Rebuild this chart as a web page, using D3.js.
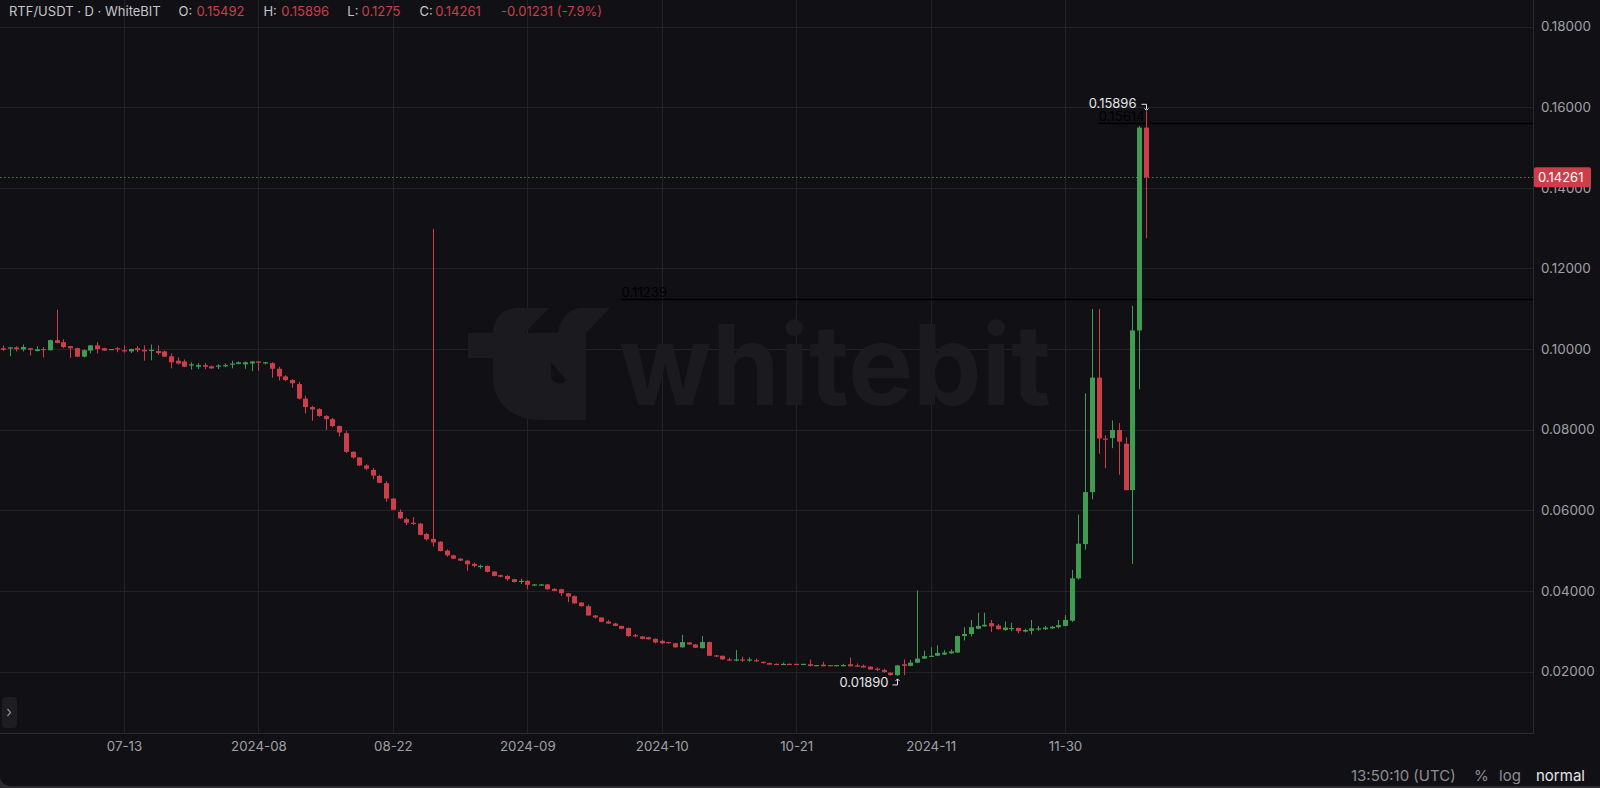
<!DOCTYPE html>
<html><head><meta charset="utf-8">
<script src="https://cdn.jsdelivr.net/npm/d3@7"></script>
<style>
html,body{margin:0;padding:0;background:#2c2c30;overflow:hidden;}
svg{display:block;font-family:Inter,"Noto Sans",sans-serif;}
</style></head><body>
<svg id="c" width="1600" height="788"></svg>
<script>
// ---------------- DATA ----------------
const opens = [
.1002,.1001,.1004,.0999,.1002,.0995,.1000,.0997,.1022,.1017,
.1007,.1002,.0981,.0996,.1009,.1002,.0998,.1002,.0997,.0994,
.1002,.0998,.0995,.0995,.0994,.0982,.0971,.0969,.0959,.0956,
.0960,.0957,.0956,.0957,.0961,.0963,.0962,.0964,.0969,.0964,
.0965,.0951,.0932,.0923,.0913,.0877,.0856,.0851,.0834,.0826,
.0809,.0791,.0745,.0731,.0711,.0700,.0685,.0667,.0629,.0596,
.0578,.0569,.0567,.0541,.0529,.0522,.0500,.0488,.0480,.0475,
.0467,.0459,.0462,.0448,.0439,.0437,.0429,.0422,.0425,.0414,
.0414,.0416,.0405,.0404,.0394,.0387,.0371,.0362,.0339,.0334,
.0324,.0319,.0313,.0308,.0290,.0287,.0285,.0281,.0276,.0273,
.0270,.0260,.0272,.0267,.0258,.0273,.0240,.0239,.0230,.0227,
.0230,.0227,.0228,.0224,.0221,.0219,.0216,.0219,.0219,.0216,
.0218,.0213,.0217,.0216,.0213,.0213,.0218,.0215,.0214,.0212,
.0207,.0204,.0197,.0191,.0218,.0214,.0222,.0232,.0237,.0239,
.0242,.0245,.0247,.0288,.0293,.0306,.0312,.0320,.0314,.0303,
.0305,.0308,.0299,.0301,.0305,.0305,.0307,.0310,.0313,.0326,
.0431,.0516,.0645,.0929,.0778,.0779,.0799,.0765,.0650,.1046,
.15492];
const highs = [
.1009,.1005,.1007,.1011,.1003,.1007,.1005,.1023,.1097,.1024,
.1008,.1003,.0999,.1010,.1017,.1003,.1000,.1005,.1009,.1001,
.1007,.1009,.1011,.1009,.0996,.0989,.0979,.0974,.0967,.0965,
.0965,.0959,.0962,.0964,.0971,.0969,.0969,.0970,.0970,.0968,
.0967,.0956,.0935,.0925,.0918,.0884,.0859,.0853,.0836,.0829,
.0810,.0796,.0746,.0732,.0714,.0705,.0688,.0672,.0630,.0602,
.0582,.0583,.0568,.0544,.1298,.0523,.0503,.0490,.0481,.0477,
.0470,.0465,.0463,.0449,.0440,.0439,.0430,.0430,.0426,.0417,
.0417,.0417,.0407,.0405,.0395,.0389,.0372,.0366,.0340,.0335,
.0328,.0321,.0314,.0309,.0293,.0288,.0286,.0282,.0279,.0274,
.0271,.0291,.0273,.0268,.0288,.0274,.0241,.0240,.0234,.0253,
.0237,.0235,.0232,.0225,.0222,.0220,.0222,.0220,.0219,.0219,
.0230,.0216,.0224,.0216,.0216,.0219,.0235,.0220,.0217,.0213,
.0210,.0207,.0198,.0216,.0230,.0229,.0401,.0252,.0260,.0265,
.0253,.0255,.0289,.0310,.0328,.0346,.0346,.0328,.0318,.0324,
.0321,.0309,.0306,.0328,.0313,.0313,.0313,.0328,.0340,.0452,
.0589,.0890,.1099,.1099,.0786,.0823,.0816,.0781,.1107,.1553,
.15896];
const lows = [
.0995,.0982,.0994,.0994,.0984,.0994,.0979,.0996,.1014,.1002,
.0978,.0980,.0979,.0989,.0989,.0995,.0998,.0992,.0991,.0990,
.0992,.0971,.0972,.0986,.0980,.0952,.0961,.0955,.0949,.0950,
.0950,.0951,.0950,.0955,.0952,.0962,.0951,.0945,.0946,.0962,
.0929,.0922,.0920,.0904,.0875,.0840,.0822,.0832,.0799,.0806,
.0783,.0742,.0728,.0710,.0700,.0677,.0667,.0621,.0600,.0578,
.0563,.0563,.0538,.0525,.0510,.0498,.0485,.0479,.0474,.0450,
.0458,.0455,.0446,.0436,.0434,.0425,.0421,.0417,.0404,.0413,
.0413,.0403,.0399,.0387,.0372,.0368,.0361,.0338,.0331,.0322,
.0318,.0312,.0305,.0286,.0285,.0280,.0279,.0270,.0268,.0269,
.0259,.0259,.0266,.0258,.0257,.0238,.0236,.0229,.0226,.0225,
.0224,.0224,.0224,.0220,.0217,.0216,.0216,.0216,.0216,.0216,
.0212,.0213,.0213,.0213,.0213,.0213,.0213,.0212,.0210,.0205,
.0201,.0197,.0190,.0189,.0191,.0213,.0221,.0231,.0236,.0238,
.0241,.0244,.0246,.0277,.0287,.0305,.0311,.0298,.0304,.0301,
.0300,.0295,.0297,.0292,.0301,.0303,.0306,.0307,.0312,.0323,
.0428,.0502,.0627,.0740,.0704,.0754,.0688,.0649,.0467,.0900,
.1275];
const closes = [
.0998,.1004,.09995,.1005,.0998,.0999,.0997,.1022,.1015,.1005,
.1002,.0981,.0997,.1009,.1000,.0996,.1000,.0999,.0996,.1000,
.0997,.0994,.0998,.0990,.0981,.0967,.0964,.0956,.0962,.0960,
.0956,.0952,.0959,.0960,.0964,.0967,.0967,.0969,.0966,.0967,
.0951,.0932,.0923,.0915,.0877,.0856,.0850,.0834,.0826,.0809,
.0793,.0745,.0731,.0711,.0703,.0686,.0668,.0629,.0601,.0580,
.0569,.0566,.0539,.0528,.0520,.0499,.0488,.0480,.0475,.0466,
.0462,.0462,.0447,.0437,.0435,.0429,.0422,.0425,.0415,.0416,
.0416,.0404,.0400,.0394,.0386,.0369,.0362,.0339,.0334,.0323,
.0319,.0313,.0306,.0288,.0287,.0281,.0280,.0272,.0270,.0270,
.0260,.0273,.0267,.0259,.0273,.0239,.0237,.0230,.0227,.0230,
.0227,.0230,.0225,.0221,.0217,.0216,.0219,.0216,.0216,.0219,
.0214,.0216,.0213,.0213,.0216,.0216,.0213,.0212,.0210,.0205,
.0204,.0199,.0191,.0215,.0214,.0222,.0232,.0238,.0239,.0246,
.0247,.0250,.0288,.0293,.0310,.0313,.0316,.0312,.0305,.0309,
.0308,.0300,.0303,.0307,.0307,.0309,.0311,.0315,.0328,.0431,
.0517,.0645,.0929,.0778,.0775,.0799,.0770,.0650,.1046,.15492,
.14261];
const xTickIndex  = [18, 38, 58, 78, 98, 118, 138, 158];
const xTickLabels = ["07-13","2024-08","08-22","2024-09","2024-10","10-21","2024-11","11-30"];
const yTicks = [0.02,0.04,0.06,0.08,0.10,0.12,0.14,0.16,0.18];
const lastPrice = 0.14261;
const drawnLevels = [0.11239, 0.15614];
const drawnLevelStart = [92, 163];   // candle index where each drawn line starts
const highMark = {idx:170, value:0.15896};
const lowMark  = {idx:133, value:0.01890};
const header = {pair:"RTF/USDT · D · WhiteBIT", O:"0.15492", H:"0.15896", L:"0.1275", C:"0.14261", chg:"-0.01231 (-7.9%)"};

// ---------------- CHART ----------------
const plotRight = 1533, plotBottom = 733;
const RED = "#cc3e49", GREEN = "#409c53";
const FONT = "Inter,'Noto Sans',sans-serif";
const svg = d3.select("#c");

svg.append("rect").attr("x",0).attr("y",-20).attr("width",1620).attr("height",806)
  .attr("rx",10).attr("fill","#111115");

const x = d3.scaleLinear().domain([0, 170]).range([3, 1145.7]);
const y = d3.scaleLinear().domain([0.02, 0.18]).range([671.5, 26.5]);

// grid
const grid = svg.append("g");
grid.selectAll("line.h").data(yTicks).join("line")
  .attr("x1",0).attr("x2",plotRight)
  .attr("y1",d=>Math.round(y(d))+0.5).attr("y2",d=>Math.round(y(d))+0.5)
  .attr("stroke","#222227").attr("stroke-width",1);
grid.selectAll("line.v").data(xTickIndex).join("line")
  .attr("y1",0).attr("y2",plotBottom)
  .attr("x1",d=>Math.round(x(d))+0.5).attr("x2",d=>Math.round(x(d))+0.5)
  .attr("stroke","#222227").attr("stroke-width",1);

// watermark
const wm = svg.append("g").attr("fill","#1a1a1f");
wm.append("path").attr("d",
  "M468,333 L493,333 C493,318 503,308 518,308 L549,308 L525,333 L558,333 C560,318 570,308 582,308 L610,308 L586,333 L586,420 L540,420 C512,420 493,402 493,378 L493,358 L468,358 Z");
wm.append("path").attr("d","M551,362 L566,380 C562,386 552,384 551,376 Z").attr("fill","#111115");
wm.append("text").attr("x",619).attr("y",405).attr("font-size",112).attr("font-weight",700)
  .attr("textLength",432).attr("lengthAdjust","spacingAndGlyphs").text("whitebit");

// borders
svg.append("line").attr("x1",plotRight+0.5).attr("x2",plotRight+0.5).attr("y1",0).attr("y2",plotBottom+0.5)
  .attr("stroke","#2c2c33");
svg.append("line").attr("x1",0).attr("x2",plotRight+0.5).attr("y1",plotBottom+0.5).attr("y2",plotBottom+0.5)
  .attr("stroke","#2c2c33");

// drawn level lines
drawnLevels.forEach((v,k)=>{
  const yy = Math.round(y(v))+0.5, x0 = x(drawnLevelStart[k]);
  svg.append("line").attr("x1",x0).attr("x2",plotRight).attr("y1",yy).attr("y2",yy)
    .attr("stroke","#000").attr("stroke-width",1.5);
  svg.append("text").attr("x",x0).attr("y",yy-2.5).attr("font-size",13.2).attr("fill","#000")
    .text(v.toFixed(5));
});

// last price dotted line
svg.append("line").attr("x1",0).attr("x2",plotRight).attr("y1",Math.round(y(lastPrice))+0.5).attr("y2",Math.round(y(lastPrice))+0.5)
  .attr("stroke",RED).attr("stroke-width",1).attr("stroke-dasharray","1.5,2.5");

// candles
const N = opens.length;
const idx = d3.range(N);
const col = i => closes[i] >= opens[i] ? GREEN : RED;
const cx = i => Math.round(x(i));
const cg = svg.append("g");
cg.selectAll("line").data(idx).join("line")
  .attr("x1",i=>cx(i)+0.5).attr("x2",i=>cx(i)+0.5)
  .attr("y1",i=>y(highs[i])).attr("y2",i=>y(lows[i]))
  .attr("stroke",col).attr("stroke-width",1);
cg.selectAll("rect").data(idx).join("rect")
  .attr("x",i=>cx(i)-2).attr("width",5)
  .attr("y",i=>y(Math.max(opens[i],closes[i])))
  .attr("height",i=>Math.max(1.2, Math.abs(y(opens[i])-y(closes[i]))))
  .attr("fill",col);

// high / low markers
{
  const hx = cx(highMark.idx)+0.5, hy = y(highMark.value);
  svg.append("text").attr("x",hx-10).attr("y",hy-3).attr("text-anchor","end")
    .attr("font-size",13).attr("fill","#e4e4e6").text(highMark.value.toFixed(5));
  svg.append("path").attr("d",`M${hx-5},${hy-7} L${hx},${hy-7} L${hx},${hy-2}`).attr("fill","none").attr("stroke","#e4e4e6").attr("stroke-width",1);
  svg.append("path").attr("d",`M${hx-2},${hy-3} L${hx},${hy-1} L${hx+2},${hy-3}`).attr("fill","none").attr("stroke","#e4e4e6").attr("stroke-width",1);
  const lx = cx(lowMark.idx)+0.5, ly = y(lowMark.value);
  svg.append("text").attr("x",lx-9).attr("y",ly+11).attr("text-anchor","end")
    .attr("font-size",13).attr("fill","#e4e4e6").text(lowMark.value.toFixed(5));
  svg.append("path").attr("d",`M${lx-5},${ly+9} L${lx},${ly+9} L${lx},${ly+3}`).attr("fill","none").attr("stroke","#e4e4e6").attr("stroke-width",1);
  svg.append("path").attr("d",`M${lx-2},${ly+5} L${lx},${ly+3} L${lx+2},${ly+5}`).attr("fill","none").attr("stroke","#e4e4e6").attr("stroke-width",1);
}

// y axis
const yAxis = d3.axisRight(y).tickValues(yTicks).tickFormat(d=>d.toFixed(5)).tickSize(0).tickPadding(8);
const ya = svg.append("g").attr("transform",`translate(${plotRight},0)`).call(yAxis);
ya.select(".domain").remove();
ya.selectAll("text").attr("fill","#a0a0a6").attr("font-size",13.4).attr("font-family",FONT);

// x axis
const xAxis = d3.axisBottom(x).tickValues(xTickIndex).tickFormat((d,k)=>xTickLabels[k]).tickSize(0).tickPadding(9);
const xa = svg.append("g").attr("transform",`translate(0,${plotBottom})`).call(xAxis);
xa.select(".domain").remove();
xa.selectAll("text").attr("fill","#a0a0a6").attr("font-size",13.3).attr("font-family",FONT);

// last price label
{
  const ly = y(lastPrice);
  svg.append("rect").attr("x",plotRight+1).attr("y",ly-10).attr("width",57).attr("height",20).attr("rx",2).attr("fill",RED);
  svg.append("text").attr("x",plotRight+5).attr("y",ly+4.5).attr("font-size",13).attr("fill","#fff").text(lastPrice.toFixed(5));
}

// header
const hd = svg.append("g").attr("font-size",13);
const hdItems = [
  [9, header.pair, "#c6c6ca"], [178.6,"O:","#c6c6ca"], [196.4,header.O,RED],
  [263.4,"H:","#c6c6ca"], [281.3,header.H,RED], [347.3,"L:","#c6c6ca"], [361.6,header.L,RED],
  [419.6,"C:","#c6c6ca"], [435.3,header.C,RED], [501,header.chg,RED]];
hd.selectAll("text").data(hdItems).join("text")
  .attr("x",d=>d[0]).attr("y",16).attr("fill",d=>d[2]).text(d=>d[1]);

// bottom right
const br = svg.append("g").attr("font-size",15);
br.append("text").attr("x",1351).attr("y",781).attr("fill","#8c8c92").text("13:50:10 (UTC)");
br.append("text").attr("x",1474).attr("y",781).attr("fill","#8c8c92").text("%");
br.append("text").attr("x",1499).attr("y",781).attr("fill","#8c8c92").text("log");
br.append("text").attr("x",1536).attr("y",781).attr("fill","#e6e6e8").text("normal");

// side button
svg.append("rect").attr("x",2).attr("y",697).attr("width",15).attr("height",31).attr("rx",4).attr("fill","#1d1d22");
svg.append("path").attr("d","M7.5,709 L10.5,712.5 L7.5,716").attr("fill","none").attr("stroke","#8c8c92").attr("stroke-width",1.2);
</script>
</body></html>
